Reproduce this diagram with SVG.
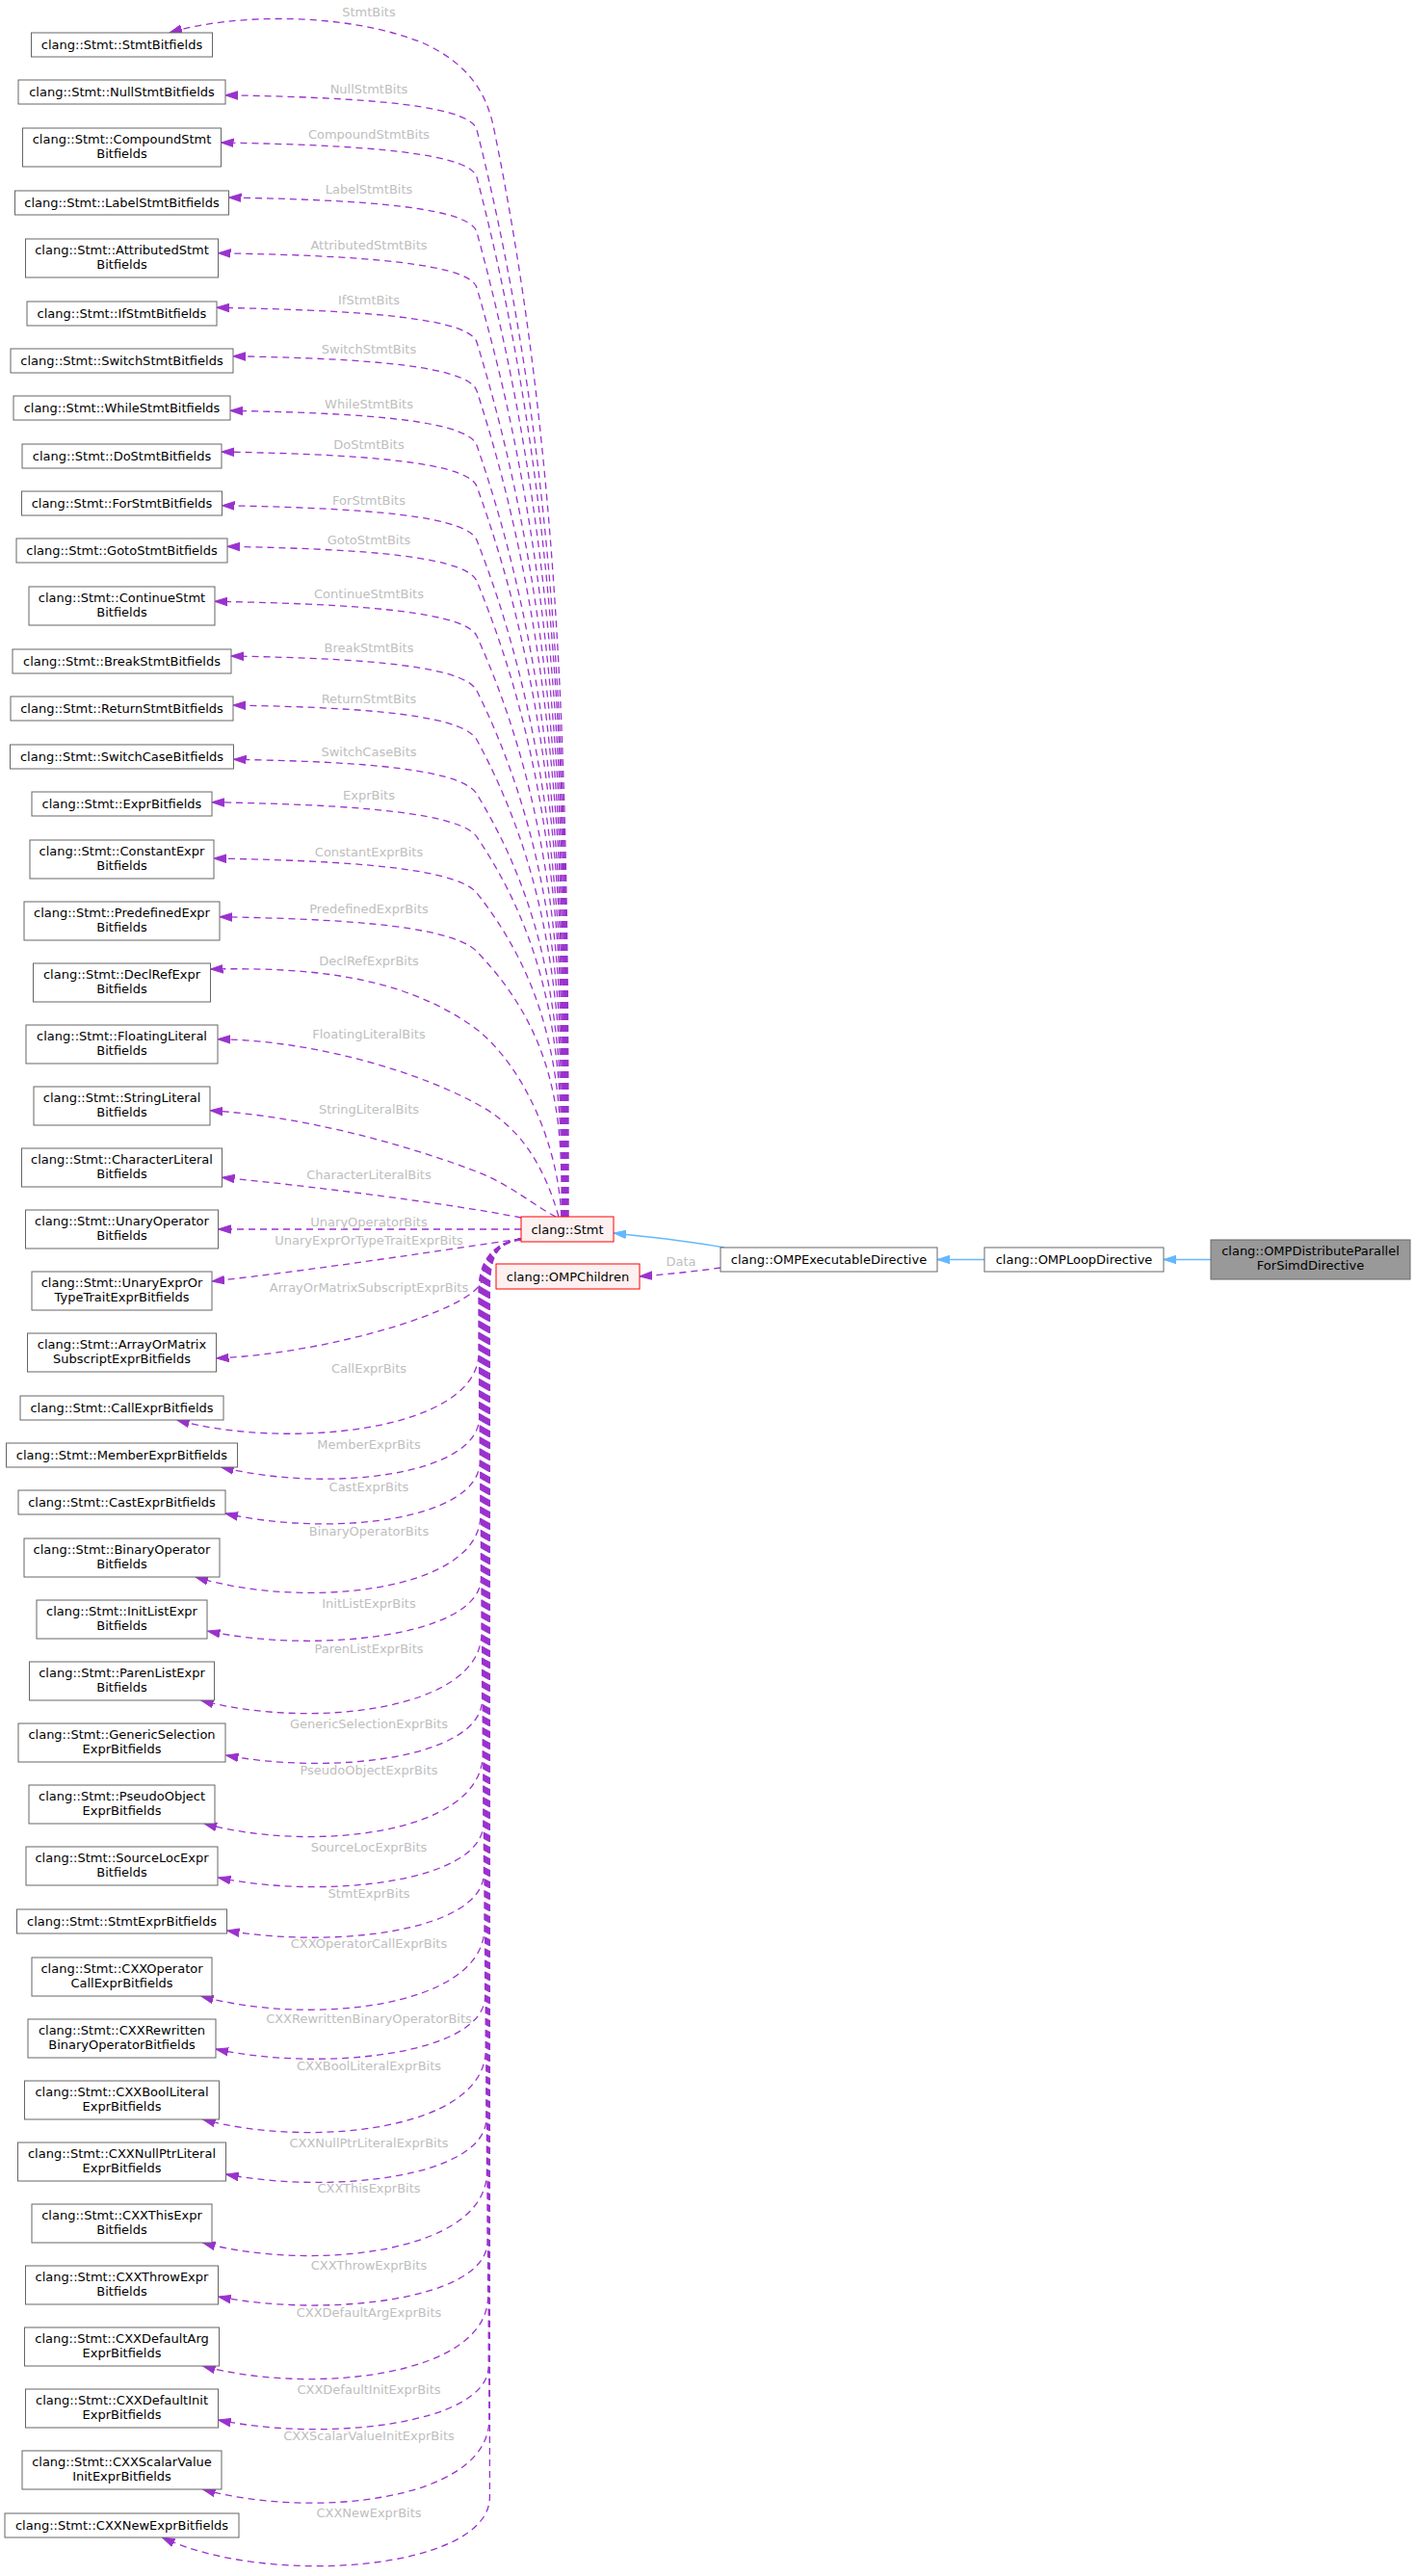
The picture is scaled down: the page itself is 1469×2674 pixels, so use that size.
<svg xmlns="http://www.w3.org/2000/svg" width="1469" height="2674" viewBox="0 0 1469 2674">
<defs>
<style>
text{font-family:"DejaVu Sans","Liberation Sans",sans-serif;font-size:13px}
.n rect{fill:#ffffff;stroke:#666666;stroke-width:1}
.r rect{fill:#fff0f0;stroke:#ff0000;stroke-width:1}
.g rect{fill:#999999;stroke:#666666;stroke-width:1}
.t{text-anchor:middle;fill:#000000}
.l{text-anchor:middle;fill:#bebebe}
.e{fill:none;stroke:#9a32cd;stroke-width:1.3;stroke-dasharray:7,5;marker-end:url(#ap)}
.i{fill:none;stroke:#63b8ff;stroke-width:1.5;marker-end:url(#ab)}
</style>
<marker id="ap" markerUnits="userSpaceOnUse" markerWidth="14" markerHeight="10" viewBox="0 0 14 10" refX="13" refY="5" orient="auto"><path d="M0,0.8 L13,5 L0,9.2 z" fill="#9a32cd" stroke="#9a32cd" stroke-width="1"/></marker>
<marker id="ab" markerUnits="userSpaceOnUse" markerWidth="14" markerHeight="10" viewBox="0 0 14 10" refX="13" refY="5" orient="auto"><path d="M0,0.8 L13,5 L0,9.2 z" fill="#63b8ff" stroke="#63b8ff" stroke-width="1"/></marker>
</defs>
<rect width="1469" height="2674" fill="#ffffff"/>
<g id="connectors">
<path class="e" d="M590,1263 C590,885.3 590,507.7 512,130 C505,100 490,68 440,45 C360,12 240,14 176,34"/>
<path class="e" d="M589.6,1263 C589.6,886.9 589.6,510.8 495,134.7 C487.5,104.7 334,100.7 234,98.7"/>
<path class="e" d="M589.2,1263 C589.2,903.3 589.2,543.7 495,184 C487.1,154 329.5,150 229.5,148"/>
<path class="e" d="M588.8,1263 C588.8,922.3 588.8,581.7 495,241 C486.7,211 337.5,207 237.5,205"/>
<path class="e" d="M588.4,1263 C588.4,941.6 588.4,620.1 495,298.7 C486.3,268.7 326.5,264.7 226.5,262.7"/>
<path class="e" d="M588,1263 C588,960.5 588,657.9 495,355.3 C485.8,325.3 325,321.3 225,319.3"/>
<path class="e" d="M587.6,1263 C587.6,977.3 587.6,691.5 495,405.7 C485.3,375.7 342,371.7 242,369.7"/>
<path class="e" d="M587.2,1263 C587.2,996.1 587.2,729.2 495,462.3 C484.6,432.3 339,428.3 239,426.3"/>
<path class="e" d="M586.8,1263 C586.8,1010.3 586.8,757.7 495,505 C484.1,475 330,471 230,469"/>
<path class="e" d="M586.4,1263 C586.4,1028.9 586.4,794.8 495,560.7 C483.3,530.7 330.5,526.7 230.5,524.7"/>
<path class="e" d="M586,1263 C586,1043.1 586,823.2 495,603.3 C482.6,573.3 336,569.3 236,567.3"/>
<path class="e" d="M585.6,1263 C585.6,1062.1 585.6,861.2 495,660.3 C481.5,630.3 323,626.3 223,624.3"/>
<path class="e" d="M585.2,1263 C585.2,1081 585.2,899 495,717 C480.1,687 340,683 240,681"/>
<path class="e" d="M584.8,1263 C584.8,1098 584.8,933 495,768 C478.7,738 342,734 242,732"/>
<path class="e" d="M584.4,1263 C584.4,1116.8 584.4,970.5 495,824.3 C476.7,794.3 342.5,790.3 242.5,788.3"/>
<path class="e" d="M584,1263 C584,1131.6 584,1000.1 495,868.7 C474.7,838.7 320,834.7 220,832.7"/>
<path class="e" d="M583.6,1263 C583.6,1151 583.6,1039 495,927 C471.3,897 322,893 222,891"/>
<path class="e" d="M583.2,1263 C583.2,1171.2 583.2,1079.5 495,987.7 C466.2,957.7 328,953.7 228,951.7"/>
<path class="e" d="M582.8,1263 C580,1190 545,1110 497,1070 C420,1012 320,1004 218.5,1006"/>
<path class="e" d="M580,1263 C565,1210 540,1170 497,1147 C440,1115 330,1080 226,1078.7"/>
<path class="e" d="M577,1263 C560,1255 530,1230 497,1217 C440,1195 330,1160 218,1152.7"/>
<path class="e" d="M541,1264 C470,1250 330,1232 230.5,1222.3"/>
<path class="e" d="M541,1276 L226.5,1276"/>
<path class="e" d="M541,1286 C470,1296 330,1318 220,1330"/>
<path class="e" d="M541,1287 C515,1291 503,1305 500,1330 C490,1360 340,1405 224.5,1410"/>
<path class="e" d="M541,1286 C515,1290 497,1305 497,1340 L497,1405 C495,1487 293.7,1505 183.7,1474"/>
<path class="e" d="M541,1286 C515,1290 497.6,1305 497.6,1340 L497.6,1472 C495.6,1532 339.6,1550 229.6,1523"/>
<path class="e" d="M541,1286 C515,1290 498.2,1305 498.2,1340 L498.2,1518 C496.2,1578 344,1596 234,1571"/>
<path class="e" d="M541,1286 C515,1290 498.8,1305 498.8,1340 L498.8,1574 C496.8,1653 313,1671 203,1637"/>
<path class="e" d="M541,1286 C515,1290 499.4,1305 499.4,1340 L499.4,1639 C497.4,1699 325.5,1717 215.5,1693"/>
<path class="e" d="M541,1286 C515,1290 500,1305 500,1340 L500,1696 C498,1777 318.6,1795 208.6,1765"/>
<path class="e" d="M541,1286 C515,1290 500.6,1305 500.6,1340 L500.6,1765 C498.6,1825 344.5,1843 234.5,1822"/>
<path class="e" d="M541,1286 C515,1290 501.2,1305 501.2,1340 L501.2,1822 C499.2,1905 322,1923 212,1893"/>
<path class="e" d="M541,1286 C515,1290 501.8,1305 501.8,1340 L501.8,1894 C499.8,1954 336.5,1972 226.5,1949"/>
<path class="e" d="M541,1286 C515,1290 502.4,1305 502.4,1340 L502.4,1945 C500.4,2005 345.5,2023 235.5,2004"/>
<path class="e" d="M541,1286 C515,1290 503,1305 503,1340 L503,2002 C501,2085 318.6,2103 208.6,2072"/>
<path class="e" d="M541,1286 C515,1290 503.6,1305 503.6,1340 L503.6,2073 C501.6,2133 334,2151 224,2127"/>
<path class="e" d="M541,1286 C515,1290 504.2,1305 504.2,1340 L504.2,2129 C502.2,2212 320.5,2230 210.5,2200"/>
<path class="e" d="M541,1286 C515,1290 504.8,1305 504.8,1340 L504.8,2200 C502.8,2260 344.6,2278 234.6,2257"/>
<path class="e" d="M541,1286 C515,1290 505.4,1305 505.4,1340 L505.4,2256 C503.4,2340 320.5,2358 210.5,2328"/>
<path class="e" d="M541,1286 C515,1290 506,1305 506,1340 L506,2328 C504,2388 336.6,2406 226.6,2384"/>
<path class="e" d="M541,1286 C515,1290 506.6,1305 506.6,1340 L506.6,2385 C504.6,2468 320.5,2486 210.5,2456"/>
<path class="e" d="M541,1286 C515,1290 507.2,1305 507.2,1340 L507.2,2457 C505.2,2517 336.6,2535 226.6,2512"/>
<path class="e" d="M541,1286 C515,1290 507.8,1305 507.8,1340 L507.8,2513 C505.8,2597 320.5,2615 210.5,2584"/>
<path class="e" d="M541,1286 C515,1290 508.4,1305 508.4,1340 L508.4,2593 C506.4,2668 278.4,2686 168.4,2634"/>
<path class="e" d="M748,1316 C720,1320 690,1323 664,1325"/>
<path class="i" d="M752,1295 C715,1288 675,1284 637,1280"/>
<path class="i" d="M1022,1307.5 L973,1307.5"/>
<path class="i" d="M1257,1307.5 L1208,1307.5"/>
</g>
<g id="connector-labels">
<text class="l" x="383" y="16.5">StmtBits</text>
<text class="l" x="383" y="96.5">NullStmtBits</text>
<text class="l" x="383" y="143.5">CompoundStmtBits</text>
<text class="l" x="383" y="200.5">LabelStmtBits</text>
<text class="l" x="383" y="258.5">AttributedStmtBits</text>
<text class="l" x="383" y="315.5">IfStmtBits</text>
<text class="l" x="383" y="366.5">SwitchStmtBits</text>
<text class="l" x="383" y="423.5">WhileStmtBits</text>
<text class="l" x="383" y="465.5">DoStmtBits</text>
<text class="l" x="383" y="523.5">ForStmtBits</text>
<text class="l" x="383" y="564.5">GotoStmtBits</text>
<text class="l" x="383" y="620.5">ContinueStmtBits</text>
<text class="l" x="383" y="676.5">BreakStmtBits</text>
<text class="l" x="383" y="729.5">ReturnStmtBits</text>
<text class="l" x="383" y="784.5">SwitchCaseBits</text>
<text class="l" x="383" y="829.5">ExprBits</text>
<text class="l" x="383" y="888.5">ConstantExprBits</text>
<text class="l" x="383" y="947.5">PredefinedExprBits</text>
<text class="l" x="383" y="1001.5">DeclRefExprBits</text>
<text class="l" x="383" y="1077.5">FloatingLiteralBits</text>
<text class="l" x="383" y="1155.5">StringLiteralBits</text>
<text class="l" x="383" y="1223.5">CharacterLiteralBits</text>
<text class="l" x="383" y="1272.5">UnaryOperatorBits</text>
<text class="l" x="383" y="1291.5">UnaryExprOrTypeTraitExprBits</text>
<text class="l" x="383" y="1340.5">ArrayOrMatrixSubscriptExprBits</text>
<text class="l" x="383" y="1424.5">CallExprBits</text>
<text class="l" x="383" y="1503.5">MemberExprBits</text>
<text class="l" x="383" y="1547.5">CastExprBits</text>
<text class="l" x="383" y="1593.5">BinaryOperatorBits</text>
<text class="l" x="383" y="1668.5">InitListExprBits</text>
<text class="l" x="383" y="1715.5">ParenListExprBits</text>
<text class="l" x="383" y="1793.5">GenericSelectionExprBits</text>
<text class="l" x="383" y="1841.5">PseudoObjectExprBits</text>
<text class="l" x="383" y="1921.5">SourceLocExprBits</text>
<text class="l" x="383" y="1969.5">StmtExprBits</text>
<text class="l" x="383" y="2021.5">CXXOperatorCallExprBits</text>
<text class="l" x="383" y="2099.5">CXXRewrittenBinaryOperatorBits</text>
<text class="l" x="383" y="2148.5">CXXBoolLiteralExprBits</text>
<text class="l" x="383" y="2228.5">CXXNullPtrLiteralExprBits</text>
<text class="l" x="383" y="2275.5">CXXThisExprBits</text>
<text class="l" x="383" y="2355.5">CXXThrowExprBits</text>
<text class="l" x="383" y="2404.5">CXXDefaultArgExprBits</text>
<text class="l" x="383" y="2484.5">CXXDefaultInitExprBits</text>
<text class="l" x="383" y="2532.5">CXXScalarValueInitExprBits</text>
<text class="l" x="383" y="2612.5">CXXNewExprBits</text>
<text class="l" x="707" y="1313.5">Data</text>
</g>
<g id="nodes">
<g id="n0" class="n"><rect x="32.5" y="34" width="188" height="25"/><text class="t" x="126.5" y="51">clang::Stmt::StmtBitfields</text></g>
<g id="n1" class="n"><rect x="19" y="83" width="215" height="25"/><text class="t" x="126.5" y="100">clang::Stmt::NullStmtBitfields</text></g>
<g id="n2" class="n"><rect x="23.5" y="133" width="206" height="40"/><text class="t" x="126.5" y="148.8">clang::Stmt::CompoundStmt</text><text class="t" x="126.5" y="163.8">Bitfields</text></g>
<g id="n3" class="n"><rect x="15.5" y="198" width="222" height="25"/><text class="t" x="126.5" y="215">clang::Stmt::LabelStmtBitfields</text></g>
<g id="n4" class="n"><rect x="26.5" y="248" width="200" height="40"/><text class="t" x="126.5" y="263.8">clang::Stmt::AttributedStmt</text><text class="t" x="126.5" y="278.8">Bitfields</text></g>
<g id="n5" class="n"><rect x="28" y="313" width="197" height="25"/><text class="t" x="126.5" y="330">clang::Stmt::IfStmtBitfields</text></g>
<g id="n6" class="n"><rect x="11" y="362" width="231" height="25"/><text class="t" x="126.5" y="379">clang::Stmt::SwitchStmtBitfields</text></g>
<g id="n7" class="n"><rect x="14" y="411" width="225" height="25"/><text class="t" x="126.5" y="428">clang::Stmt::WhileStmtBitfields</text></g>
<g id="n8" class="n"><rect x="23" y="461" width="207" height="25"/><text class="t" x="126.5" y="478">clang::Stmt::DoStmtBitfields</text></g>
<g id="n9" class="n"><rect x="22.5" y="510" width="208" height="25"/><text class="t" x="126.5" y="527">clang::Stmt::ForStmtBitfields</text></g>
<g id="n10" class="n"><rect x="17" y="559" width="219" height="25"/><text class="t" x="126.5" y="576">clang::Stmt::GotoStmtBitfields</text></g>
<g id="n11" class="n"><rect x="30" y="609" width="193" height="40"/><text class="t" x="126.5" y="624.8">clang::Stmt::ContinueStmt</text><text class="t" x="126.5" y="639.8">Bitfields</text></g>
<g id="n12" class="n"><rect x="13" y="674" width="227" height="25"/><text class="t" x="126.5" y="691">clang::Stmt::BreakStmtBitfields</text></g>
<g id="n13" class="n"><rect x="11" y="723" width="231" height="25"/><text class="t" x="126.5" y="740">clang::Stmt::ReturnStmtBitfields</text></g>
<g id="n14" class="n"><rect x="10.5" y="773" width="232" height="25"/><text class="t" x="126.5" y="790">clang::Stmt::SwitchCaseBitfields</text></g>
<g id="n15" class="n"><rect x="33" y="822" width="187" height="25"/><text class="t" x="126.5" y="839">clang::Stmt::ExprBitfields</text></g>
<g id="n16" class="n"><rect x="31" y="872" width="191" height="40"/><text class="t" x="126.5" y="887.8">clang::Stmt::ConstantExpr</text><text class="t" x="126.5" y="902.8">Bitfields</text></g>
<g id="n17" class="n"><rect x="25" y="936" width="203" height="40"/><text class="t" x="126.5" y="951.8">clang::Stmt::PredefinedExpr</text><text class="t" x="126.5" y="966.8">Bitfields</text></g>
<g id="n18" class="n"><rect x="34.5" y="1000" width="184" height="40"/><text class="t" x="126.5" y="1015.8">clang::Stmt::DeclRefExpr</text><text class="t" x="126.5" y="1030.8">Bitfields</text></g>
<g id="n19" class="n"><rect x="27" y="1064" width="199" height="40"/><text class="t" x="126.5" y="1079.8">clang::Stmt::FloatingLiteral</text><text class="t" x="126.5" y="1094.8">Bitfields</text></g>
<g id="n20" class="n"><rect x="35" y="1128" width="183" height="40"/><text class="t" x="126.5" y="1143.8">clang::Stmt::StringLiteral</text><text class="t" x="126.5" y="1158.8">Bitfields</text></g>
<g id="n21" class="n"><rect x="22.5" y="1192" width="208" height="40"/><text class="t" x="126.5" y="1207.8">clang::Stmt::CharacterLiteral</text><text class="t" x="126.5" y="1222.8">Bitfields</text></g>
<g id="n22" class="n"><rect x="26.5" y="1256" width="200" height="40"/><text class="t" x="126.5" y="1271.8">clang::Stmt::UnaryOperator</text><text class="t" x="126.5" y="1286.8">Bitfields</text></g>
<g id="n23" class="n"><rect x="33" y="1320" width="187" height="40"/><text class="t" x="126.5" y="1335.8">clang::Stmt::UnaryExprOr</text><text class="t" x="126.5" y="1350.8">TypeTraitExprBitfields</text></g>
<g id="n24" class="n"><rect x="28.5" y="1384" width="196" height="40"/><text class="t" x="126.5" y="1399.8">clang::Stmt::ArrayOrMatrix</text><text class="t" x="126.5" y="1414.8">SubscriptExprBitfields</text></g>
<g id="n25" class="n"><rect x="21" y="1449" width="211" height="25"/><text class="t" x="126.5" y="1466">clang::Stmt::CallExprBitfields</text></g>
<g id="n26" class="n"><rect x="6.5" y="1498" width="240" height="25"/><text class="t" x="126.5" y="1515">clang::Stmt::MemberExprBitfields</text></g>
<g id="n27" class="n"><rect x="19" y="1547" width="215" height="25"/><text class="t" x="126.5" y="1564">clang::Stmt::CastExprBitfields</text></g>
<g id="n28" class="n"><rect x="25" y="1597" width="203" height="40"/><text class="t" x="126.5" y="1612.8">clang::Stmt::BinaryOperator</text><text class="t" x="126.5" y="1627.8">Bitfields</text></g>
<g id="n29" class="n"><rect x="38" y="1661" width="177" height="40"/><text class="t" x="126.5" y="1676.8">clang::Stmt::InitListExpr</text><text class="t" x="126.5" y="1691.8">Bitfields</text></g>
<g id="n30" class="n"><rect x="30.5" y="1725" width="192" height="40"/><text class="t" x="126.5" y="1740.8">clang::Stmt::ParenListExpr</text><text class="t" x="126.5" y="1755.8">Bitfields</text></g>
<g id="n31" class="n"><rect x="19" y="1789" width="215" height="40"/><text class="t" x="126.5" y="1804.8">clang::Stmt::GenericSelection</text><text class="t" x="126.5" y="1819.8">ExprBitfields</text></g>
<g id="n32" class="n"><rect x="30" y="1853" width="193" height="40"/><text class="t" x="126.5" y="1868.8">clang::Stmt::PseudoObject</text><text class="t" x="126.5" y="1883.8">ExprBitfields</text></g>
<g id="n33" class="n"><rect x="27" y="1917" width="199" height="40"/><text class="t" x="126.5" y="1932.8">clang::Stmt::SourceLocExpr</text><text class="t" x="126.5" y="1947.8">Bitfields</text></g>
<g id="n34" class="n"><rect x="17.5" y="1982" width="218" height="25"/><text class="t" x="126.5" y="1999">clang::Stmt::StmtExprBitfields</text></g>
<g id="n35" class="n"><rect x="33" y="2032" width="187" height="40"/><text class="t" x="126.5" y="2047.8">clang::Stmt::CXXOperator</text><text class="t" x="126.5" y="2062.8">CallExprBitfields</text></g>
<g id="n36" class="n"><rect x="29" y="2096" width="195" height="40"/><text class="t" x="126.5" y="2111.8">clang::Stmt::CXXRewritten</text><text class="t" x="126.5" y="2126.8">BinaryOperatorBitfields</text></g>
<g id="n37" class="n"><rect x="25.5" y="2160" width="202" height="40"/><text class="t" x="126.5" y="2175.8">clang::Stmt::CXXBoolLiteral</text><text class="t" x="126.5" y="2190.8">ExprBitfields</text></g>
<g id="n38" class="n"><rect x="18.5" y="2224" width="216" height="40"/><text class="t" x="126.5" y="2239.8">clang::Stmt::CXXNullPtrLiteral</text><text class="t" x="126.5" y="2254.8">ExprBitfields</text></g>
<g id="n39" class="n"><rect x="33" y="2288" width="187" height="40"/><text class="t" x="126.5" y="2303.8">clang::Stmt::CXXThisExpr</text><text class="t" x="126.5" y="2318.8">Bitfields</text></g>
<g id="n40" class="n"><rect x="26.5" y="2352" width="200" height="40"/><text class="t" x="126.5" y="2367.8">clang::Stmt::CXXThrowExpr</text><text class="t" x="126.5" y="2382.8">Bitfields</text></g>
<g id="n41" class="n"><rect x="25.5" y="2416" width="202" height="40"/><text class="t" x="126.5" y="2431.8">clang::Stmt::CXXDefaultArg</text><text class="t" x="126.5" y="2446.8">ExprBitfields</text></g>
<g id="n42" class="n"><rect x="26.5" y="2480" width="200" height="40"/><text class="t" x="126.5" y="2495.8">clang::Stmt::CXXDefaultInit</text><text class="t" x="126.5" y="2510.8">ExprBitfields</text></g>
<g id="n43" class="n"><rect x="23" y="2544" width="207" height="40"/><text class="t" x="126.5" y="2559.8">clang::Stmt::CXXScalarValue</text><text class="t" x="126.5" y="2574.8">InitExprBitfields</text></g>
<g id="n44" class="n"><rect x="5" y="2609" width="243" height="25"/><text class="t" x="126.5" y="2626">clang::Stmt::CXXNewExprBitfields</text></g>
<g id="stmt" class="r"><rect x="541" y="1263" width="96" height="26"/><text class="t" x="589" y="1280.5">clang::Stmt</text></g>
<g id="ompchildren" class="r"><rect x="515" y="1312" width="149" height="26"/><text class="t" x="589.5" y="1329.5">clang::OMPChildren</text></g>
<g id="ompexec" class="n"><rect x="748" y="1295" width="225" height="25"/><text class="t" x="860.5" y="1312">clang::OMPExecutableDirective</text></g>
<g id="omploop" class="n"><rect x="1022" y="1295" width="186" height="25"/><text class="t" x="1115" y="1312">clang::OMPLoopDirective</text></g>
<g id="ompdist" class="g"><rect x="1257" y="1287" width="207" height="41"/><text class="t" x="1360.5" y="1303.3">clang::OMPDistributeParallel</text><text class="t" x="1360.5" y="1318.3">ForSimdDirective</text></g>
</g>
</svg>
